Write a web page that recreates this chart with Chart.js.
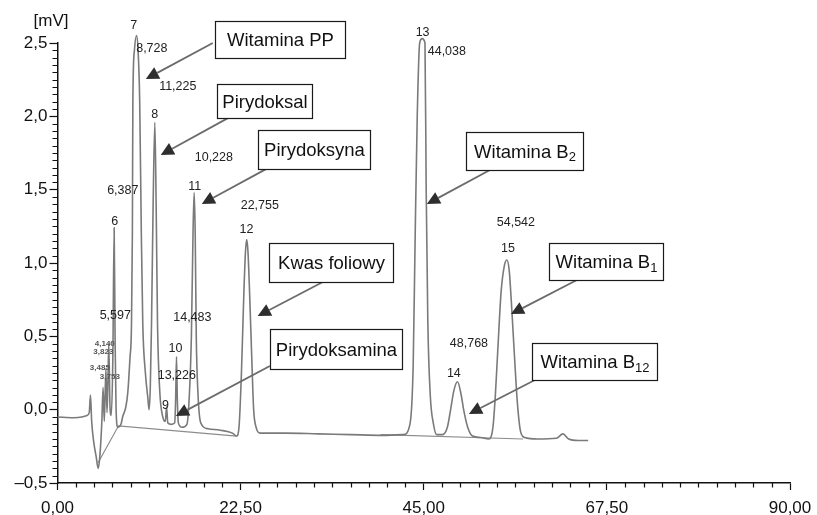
<!DOCTYPE html>
<html>
<head>
<meta charset="utf-8">
<script src="https://cdn.jsdelivr.net/npm/chart.js@4/dist/chart.umd.min.js"></script>
<style>
  body { margin: 0; background: #fff; }
  canvas { display: block; }
</style>
</head>
<body>
<canvas id="chrom" width="817" height="515"></canvas>
<script>
// chromatogram trace: time [min] / signal [mV]
const traceTime = [
  0, 2.0, 3.0, 3.6, 3.9, 4.05, 4.2, 4.45, 4.75, 5.0, 5.2, 5.45, 5.6, 5.75, 5.95, 6.08, 6.2, 6.3, 6.45, 6.6,
  6.8, 6.96, 7.08, 7.2, 7.4, 7.8, 8.0, 8.4, 8.64, 8.9, 9.09, 9.2, 9.26, 9.45, 9.71, 9.9, 10.1, 10.3, 10.48, 10.8,
  11.1, 11.25, 11.4, 11.55, 11.75, 11.96, 12.12, 12.29, 12.57, 12.94, 13.25, 13.4, 13.55, 14.0, 14.4, 14.52, 14.62, 14.72, 14.85, 15.3,
  15.9, 16.2, 16.45, 16.65, 16.79, 16.92, 17.05, 17.25, 17.6, 18.5, 20.0, 21.5, 22.0, 22.3, 22.6, 22.9, 23.1, 23.25, 23.4, 23.6,
  23.9, 24.1, 24.4, 24.9, 28, 32, 36, 40, 42.5, 43.3, 43.7, 43.95, 44.2, 44.5, 44.8, 45.15, 45.3, 45.5, 45.8, 46.2,
  46.6, 47.3, 47.9, 48.3, 48.7, 49.15, 49.6, 49.9, 50.4, 51.0, 52.0, 53.0, 53.5, 53.8, 54.1, 54.5, 54.9, 55.2, 55.5, 55.8,
  56.1, 56.5, 56.9, 57.4, 59, 61.3, 62.1, 62.8, 64, 65.2
];
const traceSignal = [
  -0.05, -0.055, -0.05, -0.04, -0.02, 0.10, -0.08, -0.22, -0.32, -0.40, -0.32, -0.08, 0.15, -0.08, 0.28, -0.02, 0.20, 0.45, 0.02, -0.04,
  0.35, 1.24, 0.45, 0.0, -0.12, -0.10, -0.05, 0.02, 0.12, 0.35, 0.58, 1.2, 2.1, 2.45, 2.55, 2.45, 2.1, 1.2, 0.58, 0.25,
  0.08, 0.0, 0.15, 0.58, 1.4, 1.96, 1.4, 0.58, 0.12, -0.05, -0.08, 0.02, -0.09, -0.10, -0.09, 0.08, 0.36, 0.08, -0.09, -0.12,
  -0.10, 0.1, 0.5, 1.2, 1.48, 1.2, 0.5, 0.12, -0.09, -0.13, -0.14, -0.16, -0.18, -0.12, 0.25, 0.8, 1.08, 1.16, 1.08, 0.8,
  0.3, 0.0, -0.12, -0.16, -0.16, -0.165, -0.17, -0.175, -0.17, -0.1, 0.3, 1.2, 2.0, 2.5, 2.53, 2.5, 1.5, 0.6, 0.1, -0.1,
  -0.17, -0.17, -0.12, 0.0, 0.13, 0.19, 0.1, 0.0, -0.12, -0.18, -0.19, -0.2, -0.12, 0.1, 0.41, 0.8, 0.98, 1.02, 0.95, 0.7,
  0.41, 0.05, -0.15, -0.19, -0.2, -0.195, -0.165, -0.2, -0.21, -0.21
];

// integration baselines (null = gap)
const baseTime = [5.0, 7.5, 22.0, 30, 39.7, 57.2];
const baseSignal = [-0.36, -0.11, -0.18, null, -0.17, -0.2];

// peak numbers and retention times printed on the chromatogram
const peakTexts = ['7', '8,728', '11,225', '8', '10,228', '6,387', '11', '22,755', '12', '6',
  '5,597', '14,483', '10', '13,226', '9', '13', '44,038', '54,542', '15', '48,768', '14'];
const smallTexts = ['4,140', '3,823', '3,485', '3,753'];

// compound names
const compounds = [
  { name: 'Witamina PP' }, { name: 'Pirydoksal' }, { name: 'Pirydoksyna' }, { name: 'Kwas foliowy' },
  { name: 'Pirydoksamina' }, { name: 'Witamina B', sub: '2' }, { name: 'Witamina B', sub: '1' }, { name: 'Witamina B', sub: '12' }
];

// where the printed texts sit, in axis units
const peakTextAt = [
  [9.38, 2.616], [11.59, 2.459], [14.78, 2.206], [11.96, 2.009], [19.21, 1.716], [8.02, 1.491], [16.87, 1.518],
  [24.86, 1.395], [23.23, 1.225], [7.04, 1.286], [7.1, 0.639], [16.57, 0.625], [14.5, 0.414], [14.66, 0.23],
  [13.27, 0.025], [44.86, 2.573], [47.84, 2.44], [56.32, 1.275], [55.34, 1.098], [50.55, 0.448], [48.7, 0.248]
];
const smallTextAt = [[5.81, 0.448], [5.63, 0.395], [5.2, 0.286], [6.43, 0.225]];
// box: left/top in axis units, width/height in px; arrow: from -> tip in axis units
const boxAt = [
  [19.33, 2.65, 130, 37], [19.58, 2.22, 95, 34], [24.62, 1.907, 112, 39], [25.97, 1.136, 124, 39],
  [26.09, 0.55, 132, 40], [50.18, 1.893, 117, 38], [60.38, 1.136, 114, 37], [58.29, 0.455, 125, 37]
];
const arrowAt = [
  [19.08, 2.5, 10.85, 2.254], [20.93, 1.988, 12.69, 1.736], [25.84, 1.647, 17.73, 1.402], [32.6, 0.87, 24.6, 0.639],
  [26.09, 0.298, 14.54, -0.043], [53.13, 1.634, 45.38, 1.402], [63.82, 0.884, 55.71, 0.652], [58.66, 0.202, 50.55, -0.029]
];

const FONT = '"Liberation Sans", Arial, Helvetica, sans-serif';

function comma(v, d) {
  const s = Math.abs(v).toFixed(d).replace('.', ',');
  return v < 0 ? '\u2013' + s : s;
}

const overlay = {
  id: 'overlay',
  afterDraw(chart) {
    const c = chart.ctx, x = chart.scales.x, y = chart.scales.y;
    const area = chart.chartArea;
    c.save();

    // minor ticks
    c.strokeStyle = '#111';
    c.lineWidth = 1.2;
    c.beginPath();
    for (let i = 1; i < 40; i++) {
      if (i % 10 === 0) continue;
      const px = Math.round(x.getPixelForValue(i * 2.25)) + 0.5;
      c.moveTo(px, area.bottom);
      c.lineTo(px, area.bottom + 4.5);
    }
    for (let i = 1; i < 60; i++) {
      if (i % 10 === 0) continue;
      const py = Math.round(y.getPixelForValue(-0.5 + i * 0.05)) + 0.5;
      c.moveTo(area.left, py);
      c.lineTo(area.left - 5, py);
    }
    c.stroke();

    // unit label
    c.fillStyle = '#111';
    c.font = '17px ' + FONT;
    c.textAlign = 'center';
    c.textBaseline = 'middle';
    c.fillText('[mV]', 51, 21);

    // peak texts
    c.fillStyle = '#222';
    c.font = '12.5px ' + FONT;
    peakTexts.forEach((t, i) => {
      c.fillText(t, x.getPixelForValue(peakTextAt[i][0]), y.getPixelForValue(peakTextAt[i][1]));
    });
    c.fillStyle = '#555';
    c.font = 'bold 8px ' + FONT;
    smallTexts.forEach((t, i) => {
      c.fillText(t, x.getPixelForValue(smallTextAt[i][0]), y.getPixelForValue(smallTextAt[i][1]));
    });

    // arrows
    arrowAt.forEach(a => {
      const x0 = x.getPixelForValue(a[0]), y0 = y.getPixelForValue(a[1]);
      const x1 = x.getPixelForValue(a[2]), y1 = y.getPixelForValue(a[3]);
      const ang = Math.atan2(y1 - y0, x1 - x0);
      const len = 13, hw = 6.5;
      const bx = x1 - len * Math.cos(ang), by = y1 - len * Math.sin(ang);
      c.strokeStyle = '#6b6b6b';
      c.lineWidth = 1.8;
      c.beginPath();
      c.moveTo(x0, y0);
      c.lineTo(bx, by);
      c.stroke();
      c.fillStyle = '#2e2e2e';
      c.beginPath();
      c.moveTo(x1, y1);
      c.lineTo(bx + hw * Math.sin(ang), by - hw * Math.cos(ang));
      c.lineTo(bx - hw * Math.sin(ang), by + hw * Math.cos(ang));
      c.closePath();
      c.fill();
    });

    // boxes
    compounds.forEach((cp, i) => {
      const b = boxAt[i];
      const bx = Math.round(x.getPixelForValue(b[0])) + 0.5;
      const by = Math.round(y.getPixelForValue(b[1])) + 0.5;
      c.fillStyle = '#fff';
      c.fillRect(bx, by, b[2], b[3]);
      c.strokeStyle = '#1a1a1a';
      c.lineWidth = 1.2;
      c.strokeRect(bx, by, b[2], b[3]);
      c.font = '18.5px ' + FONT;
      const wMain = c.measureText(cp.name).width;
      let wSub = 0;
      if (cp.sub) {
        c.font = '13px ' + FONT;
        wSub = c.measureText(cp.sub).width;
      }
      const sx = bx + (b[2] - wMain - wSub) / 2;
      const cy = by + b[3] / 2 + 1;
      c.fillStyle = '#111';
      c.textAlign = 'left';
      c.textBaseline = 'middle';
      c.font = '18.5px ' + FONT;
      c.fillText(cp.name, sx, cy);
      if (cp.sub) {
        c.font = '13px ' + FONT;
        c.fillText(cp.sub, sx + wMain, cy + 5);
      }
      c.textAlign = 'center';
    });
    c.restore();
  }
};

const trace = traceTime.map((t, i) => ({ x: t, y: traceSignal[i] }));
const baseline = baseTime.map((t, i) => ({ x: t, y: baseSignal[i] }));

new Chart(document.getElementById('chrom'), {
  type: 'line',
  data: {
    datasets: [
      {
        data: trace,
        borderColor: '#7a7a7a',
        borderWidth: 1.6,
        pointRadius: 0,
        cubicInterpolationMode: 'monotone',
        clip: false
      },
      {
        data: baseline,
        borderColor: '#8c8c8c',
        borderWidth: 1.2,
        pointRadius: 0,
        spanGaps: false,
        clip: false
      }
    ]
  },
  options: {
    responsive: false,
    animation: false,
    layout: { padding: { top: 43, right: 27, left: 0, bottom: 0 } },
    plugins: { legend: { display: false }, tooltip: { enabled: false } },
    scales: {
      x: {
        type: 'linear',
        min: 0,
        max: 90,
        afterFit: s => { s.height = 32; s.paddingLeft = 20; s.paddingRight = 20; },
        ticks: {
          stepSize: 22.5,
          autoSkip: false,
          maxRotation: 0,
          padding: 8,
          color: '#111',
          font: { family: FONT, size: 17 },
          callback: v => comma(v, 2)
        },
        grid: { drawOnChartArea: false, tickLength: 7, color: '#111', tickWidth: 1.2 },
        border: { color: '#111', width: 1.5 }
      },
      y: {
        min: -0.5,
        max: 2.5,
        afterFit: s => { s.width = 57.5; },
        ticks: {
          stepSize: 0.5,
          padding: 2,
          color: '#111',
          font: { family: FONT, size: 17 },
          callback: v => comma(v, 1)
        },
        grid: { drawOnChartArea: false, tickLength: 8, color: '#111', tickWidth: 1.2 },
        border: { color: '#111', width: 1.5 }
      }
    }
  },
  plugins: [overlay]
});
</script>
</body>
</html>
